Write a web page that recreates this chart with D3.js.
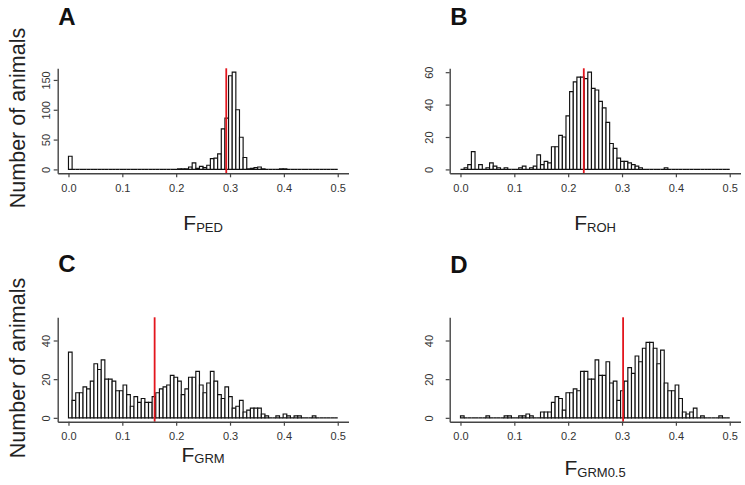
<!DOCTYPE html>
<html><head><meta charset="utf-8">
<script src="https://cdn.jsdelivr.net/npm/d3@7"></script>
<style>body{margin:0;background:#fff}svg{display:block}</style>
</head><body><svg id="c" width="745" height="485"></svg>
<script>
// ---- data ----
const binCount = 74;           // breaks = seq(0, 0.5, length = 75)
const binMax = 0.5;
const xTicks = [0, 0.1, 0.2, 0.3, 0.4, 0.5];
const panelLetters = ["A", "B", "C", "D"];
const xLabelSubs = ["PED", "ROH", "GRM", "GRM0.5"];
const yLabelText = "Number of animals";
const yTicksPED = [0, 50, 100, 150];
const yTicksROH = [0, 20, 40, 60];
const yTicksGRM = [0, 20, 40];
const yTicksGRM05 = [0, 20, 40];
const yMaxes = [163, 60, 50, 50];
const means = [0.293, 0.229, 0.160, 0.302];
const countsPED = [22,0,0,0,0,0,0,0,0,0, 0,0,0,0,0,0,0,0,0,0, 0,0,0,0,0,0,0,0,0,0,
  1,1,1,4,11,2,5,3,7,18, 19,26,68,86,157,163,100,54,20,1, 2,3,4,1,0,0,0,0,1,1,
  0,0,0,0,0,0,0,0,0,0, 0,0,0,0];
const countsROH = [0,1,3,11,0,3,0,1,4,2, 1,0,1,0,0,0,1,2,0,1, 2,9,3,5,4,14,14,21,20,33,
  48,54,57,57,56,60,50,49,42,38, 29,16,13,7,5,5,4,3,2,1, 0,0,0,0,0,0,1,0,0,0,
  0,0,0,0,0,0,0,0,0,0, 0,0,0,0];
const countsGRM = [34,9,13,13,16,15,19,28,25,30, 20,20,19,14,14,17,12,6,11,8, 10,8,8,11,13,15,16,17,22,21,
  19,12,15,21,21,24,17,13,18,24, 19,12,10,16,11,5,6,9,3,4, 5,5,5,2,1,0,0,1,0,2,
  1,0,1,1,0,0,0,1,0,0, 0,0,0,0];
const countsGRM05 = [1,0,0,0,0,0,0,1,0,0, 0,0,1,1,0,0,1,1,2,1, 0,0,3,3,3,8,11,10,4,13,
  13,15,14,24,24,20,20,30,22,22, 29,18,19,9,14,19,26,23,32,29, 36,39,39,36,28,35,18,14,14,17,
  10,3,2,3,5,0,1,0,0,0, 0,1,0,0];

// ---- layout ----
const colLeft = [57.7, 449.7];
const plotW = 290.8;
const rowTop = [68.3, 317.3];
const plotH = [105, 104.4];
const yTickLabelOff = [7.5, 17];
const titleBase = [[25, 25], [271.5, 273]];
const xLabelBase = [[230, 230], [461.5, 475]];
const yLabelCenter = [118, 368];

const panels = [
  {counts: countsPED, yTicks: yTicksPED},
  {counts: countsROH, yTicks: yTicksROH},
  {counts: countsGRM, yTicks: yTicksGRM},
  {counts: countsGRM05, yTicks: yTicksGRM05}
];

const svg = d3.select("#c");
svg.append("rect").attr("width", 745).attr("height", 485).attr("fill", "#fff");
const font = "'Liberation Sans', Arial, Helvetica, sans-serif";
const binW = binMax / binCount;

panels.forEach((p, i) => {
  const col = i % 2, row = Math.floor(i / 2);
  const left = colLeft[col], top = rowTop[row], h = plotH[row];
  const x = d3.scaleLinear().domain([-0.02, 0.52]).range([left, left + plotW]);
  const yMax = yMaxes[i];
  const y = d3.scaleLinear().domain([-0.04 * yMax, 1.04 * yMax]).range([top + h, top]);
  const g = svg.append("g");

  // bars
  g.selectAll("path.bar").data(p.counts).join("path")
    .attr("class", "bar")
    .attr("d", (c, k) => {
      const x0 = x(k * binW), x1 = x((k + 1) * binW), y0 = y(0), y1 = y(c);
      return `M${x0},${y0}V${y1}H${x1}V${y0}Z`;
    })
    .attr("fill", "#fff").attr("stroke", "#111").attr("stroke-width", 1.15);

  // mean line
  g.append("line")
    .attr("x1", x(means[i])).attr("x2", x(means[i]))
    .attr("y1", top).attr("y2", top + h)
    .attr("stroke", "#e3161e").attr("stroke-width", 1.8);

  // x axis
  const xa = g.append("g").attr("transform", `translate(0,${top + h})`)
    .call(d3.axisBottom(x).tickValues(xTicks).tickSize(4).tickSizeOuter(0).tickPadding(7)
      .tickFormat(d3.format(".1f")));
  xa.select(".domain").attr("stroke", "#444").attr("stroke-width", 1.4);
  xa.selectAll(".tick line").attr("stroke", "#444").attr("stroke-width", 1.2);
  xa.selectAll(".tick text").attr("font-family", font).attr("font-size", 11).attr("fill", "#333");

  // y axis
  const ya = g.append("g").attr("transform", `translate(${left},0)`)
    .call(d3.axisLeft(y).tickValues(p.yTicks).tickSize(4).tickSizeOuter(0));
  ya.select(".domain").attr("stroke", "#444").attr("stroke-width", 1.4);
  ya.selectAll(".tick line").attr("stroke", "#444").attr("stroke-width", 1.2);
  ya.selectAll(".tick text")
    .attr("x", null).attr("dy", null)
    .attr("transform", `translate(${-yTickLabelOff[col]},0) rotate(-90)`)
    .attr("text-anchor", "middle")
    .attr("font-family", font).attr("font-size", 11).attr("fill", "#333");

  // panel letter
  g.append("text").attr("x", left + 0.5).attr("y", titleBase[row][col])
    .attr("font-family", font).attr("font-weight", "bold").attr("font-size", 24)
    .attr("fill", "#111").text(panelLetters[i]);

  // x label F_sub
  const xl = g.append("text").attr("x", x(0.25)).attr("y", xLabelBase[row][col])
    .attr("text-anchor", "middle").attr("font-family", font).attr("fill", "#222");
  xl.append("tspan").attr("font-size", 21).text("F");
  xl.append("tspan").attr("font-size", 13).attr("dy", 1.5).text(xLabelSubs[i]);

  // y label (left column only)
  if (col === 0) {
    g.append("text")
      .attr("transform", `translate(24.5,${yLabelCenter[row]}) rotate(-90)`)
      .attr("text-anchor", "middle").attr("font-family", font).attr("font-size", 21.5)
      .attr("fill", "#222").text(yLabelText);
  }
});
</script></body></html>
